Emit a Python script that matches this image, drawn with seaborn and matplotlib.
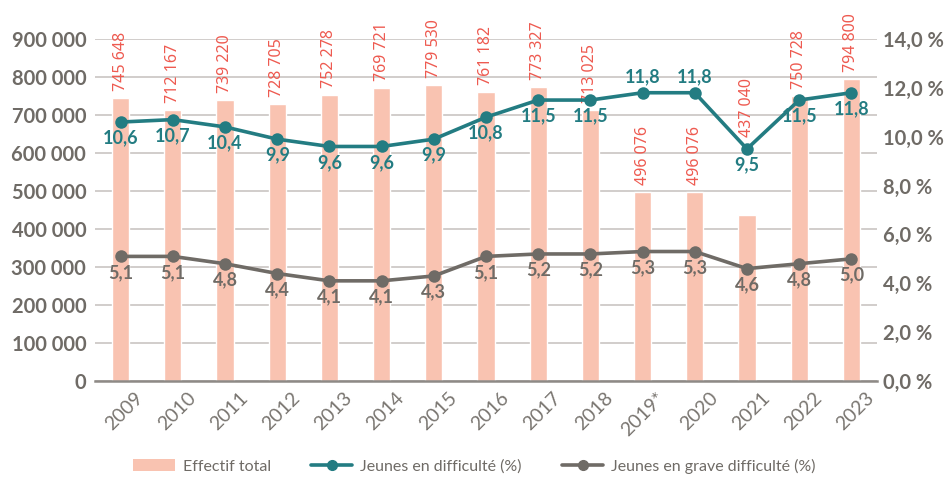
import matplotlib
matplotlib.use("Agg")
import matplotlib.pyplot as plt
import matplotlib.ticker as mticker
import matplotlib.transforms as mtransforms
from matplotlib.lines import Line2D
from matplotlib.patches import Patch
import numpy as np
import pandas as pd
import seaborn as sns

years = ["2009", "2010", "2011", "2012", "2013", "2014", "2015", "2016",
         "2017", "2018", "2019*", "2020", "2021", "2022", "2023"]
effectif = [745648, 712167, 739220, 728705, 752278, 769721, 779530, 761182,
            773327, 713025, 496076, 496076, 437040, 750728, 794800]
difficulte = [10.6, 10.7, 10.4, 9.9, 9.6, 9.6, 9.9, 10.8, 11.5, 11.5, 11.8, 11.8, 9.5, 11.5, 11.8]
grave = [5.1, 5.1, 4.8, 4.4, 4.1, 4.1, 4.3, 5.1, 5.2, 5.2, 5.3, 5.3, 4.6, 4.8, 5.0]

BAR = "#F9C3B1"
BAR_TXT = "#EE5A50"
TEAL = "#237C82"
GREY = "#6F6B66"
GRID = "#C9C5C2"

sns.set_theme(style="white")
plt.rcParams["font.family"] = ["Lato", "DejaVu Sans"]

df = pd.DataFrame({"annee": years, "effectif": effectif,
                   "difficulte": difficulte, "grave": grave})
df["pos"] = np.arange(len(df))

fig = plt.figure(figsize=(9.49, 4.79), dpi=100)
ax = fig.add_axes([0.0996, 0.2046, 0.825, 0.714])

sns.barplot(data=df, x="annee", y="effectif", color=BAR, width=0.33,
            saturation=1, ax=ax, zorder=2)
ax.set_xlim(-0.5, len(years) - 0.5)
ax.set_ylim(0, 900000)
ax.set_yticks(np.arange(0, 900001, 100000))
ax.yaxis.set_major_formatter(mticker.FuncFormatter(
    lambda v, p: f"{int(v):,}".replace(",", " ")))
ax.grid(axis="y", color=GRID, lw=1.2, zorder=0)
ax.set_axisbelow(True)
for s in ["top", "right", "left"]:
    ax.spines[s].set_visible(False)
ax.spines["bottom"].set_color("#8E8A86")
ax.spines["bottom"].set_linewidth(1.8)
ax.set_xlabel("")
ax.set_ylabel("")
ax.tick_params(axis="y", length=0, pad=6, labelsize=14.5, labelcolor=GREY)
ax.tick_params(axis="x", length=0, pad=6, labelsize=14, labelcolor="#7A7671")
for lbl in ax.get_yticklabels():
    lbl.set_fontweight("bold")
shift = mtransforms.ScaledTranslation(14 / 100, 0, fig.dpi_scale_trans)
for lbl in ax.get_xticklabels():
    lbl.set_rotation(45)
    lbl.set_ha("right")
    lbl.set_va("top")
    lbl.set_rotation_mode("anchor")
    lbl.set_transform(lbl.get_transform() + shift)

ax2 = ax.twinx()
ax2.set_ylim(0, 14)
ax2.set_yticks(np.arange(0, 14.01, 2))
ax2.yaxis.set_major_formatter(mticker.FuncFormatter(lambda v, p: f"{v:.1f} %".replace(".", ",")))
ax2.tick_params(axis="y", length=0, pad=4, labelsize=14.5, labelcolor=GREY)
for lbl in ax2.get_yticklabels():
    lbl.set_fontweight("bold")
for s in ax2.spines.values():
    s.set_visible(False)

sns.lineplot(data=df, x="pos", y="difficulte", color=TEAL, lw=2.6, marker="o",
             markersize=9, markeredgewidth=0, ax=ax2, zorder=4)
sns.lineplot(data=df, x="pos", y="grave", color=GREY, lw=2.6, marker="o",
             markersize=9, markeredgewidth=0, ax=ax2, zorder=4)
ax2.set_xlim(-0.5, len(years) - 0.5)
ax2.set_xlabel("")
ax2.set_ylabel("")

# value labels for the two rates
above = {"2019*", "2020"}
for i, (yr, v) in enumerate(zip(years, difficulte)):
    off = 16 if yr in above else -16
    ax2.annotate(f"{v:.1f}".replace(".", ","), (i, v), xytext=(0, off),
                 textcoords="offset pixels", ha="center", va="center",
                 color=TEAL, fontsize=13, fontweight="bold", zorder=5)
for i, v in enumerate(grave):
    ax2.annotate(f"{v:.1f}".replace(".", ","), (i, v), xytext=(0, -16),
                 textcoords="offset pixels", ha="center", va="center",
                 color=GREY, fontsize=13, fontweight="bold", zorder=5)

# headcount labels, rotated, above each bar (above the marker where it sits over the bar)
lab_font = dict(rotation=90, ha="center", va="bottom", color=BAR_TXT,
                fontsize=11.5, family=["Noto Sans", "DejaVu Sans"])
for i, (yr, v) in enumerate(zip(years, effectif)):
    txt = f"{v:,}".replace(",", " ")
    if yr == "2021":
        ax2.annotate(txt, (i, difficulte[i]), xytext=(0, 12),
                     textcoords="offset pixels", **lab_font)
    else:
        ax.annotate(txt, (i, v), xytext=(0, 7), textcoords="offset pixels", **lab_font)

handles = [Patch(facecolor=BAR, edgecolor="none"),
           Line2D([0], [0], color=TEAL, lw=2.6, marker="o", markersize=7),
           Line2D([0], [0], color=GREY, lw=2.6, marker="o", markersize=7)]
labels = ["Effectif total", "Jeunes en difficulté (%)", "Jeunes en grave difficulté (%)"]
fig.legend(handles, labels, loc="center", bbox_to_anchor=(0.5, 0.027), ncol=3,
           frameon=False, fontsize=11.5, handlelength=2.6, columnspacing=2.5,
           handletextpad=0.5, labelcolor=GREY)

fig.savefig("out.png", dpi=100)
